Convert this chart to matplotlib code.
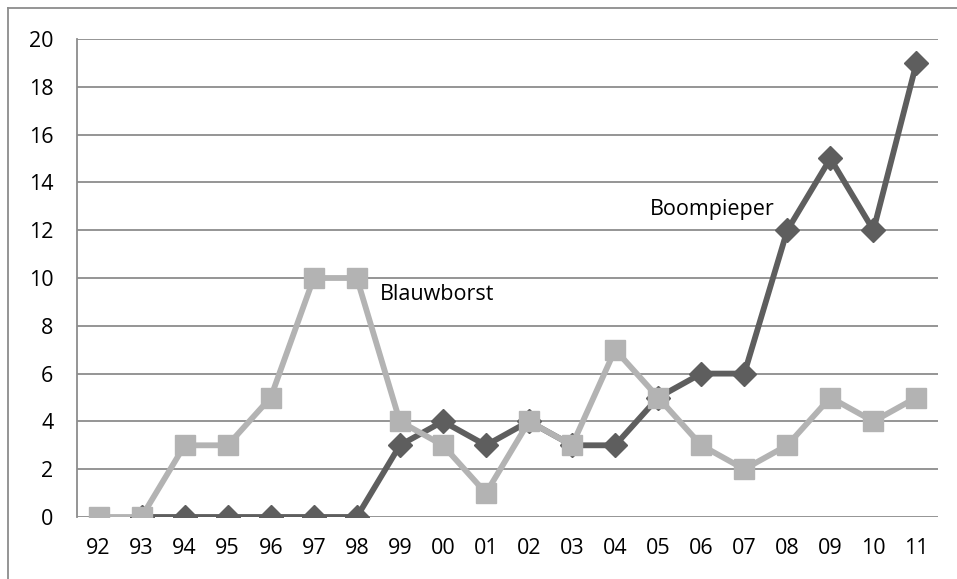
import matplotlib
matplotlib.use("Agg")
import matplotlib.pyplot as plt
from matplotlib.lines import Line2D
import numpy as np

years = ["92", "93", "94", "95", "96", "97", "98", "99", "00", "01",
         "02", "03", "04", "05", "06", "07", "08", "09", "10", "11"]
boompieper = [np.nan, 0, 0, 0, 0, 0, 0, 3, 4, 3, 4, 3, 3, 5, 6, 6, 12, 15, 12, 19]
blauwborst = [0, 0, 3, 3, 5, 10, 10, 4, 3, 1, 4, 3, 7, 5, 3, 2, 3, 5, 4, 5]

plt.rcParams['font.family'] = ['Open Sans', 'DejaVu Sans']
grid_col = '#8c8c8c'
fs = 15.5

fig = plt.figure(figsize=(9.57, 5.79), dpi=100)
ax = fig.add_axes([77 / 957, 1 - 517 / 579, (938 - 77) / 957, (517 - 39) / 579])

x = np.arange(len(years))
ax.plot(x, boompieper, color='#5e5e5e', linewidth=4.2, marker='D',
        markersize=12.5, zorder=3)
ax.plot(x, blauwborst, color='#b3b3b3', linewidth=4.2, marker='s',
        markersize=14.5, zorder=4)

ax.set_xlim(-0.5, len(years) - 0.5)
ax.set_ylim(0, 20)
ax.set_yticks(range(0, 21, 2))
ax.set_xticks(x)
ax.set_xticklabels(years)
ax.tick_params(length=0, labelsize=fs, colors='black')
ax.tick_params(axis='y', pad=17)
ax.tick_params(axis='x', pad=15)
ax.yaxis.grid(True, color=grid_col, linewidth=1.3)
ax.set_axisbelow(True)
for s in ['top', 'right', 'bottom']:
    ax.spines[s].set_visible(False)
ax.spines['left'].set_color(grid_col)
ax.spines['left'].set_linewidth(1.3)

ax.text(7.87, 9.3, "Blauwborst", fontsize=fs, ha='center', va='center')
ax.text(14.26, 12.85, "Boompieper", fontsize=fs, ha='center', va='center')

# outer chart frame (cropped at right and bottom)
fig.add_artist(Line2D([8 / 957, 8 / 957], [0, 1 - 8 / 579], color=grid_col,
                      linewidth=1.3, transform=fig.transFigure))
fig.add_artist(Line2D([8 / 957, 1], [1 - 8 / 579, 1 - 8 / 579], color=grid_col,
                      linewidth=1.3, transform=fig.transFigure))

fig.savefig("out.png", dpi=100)
